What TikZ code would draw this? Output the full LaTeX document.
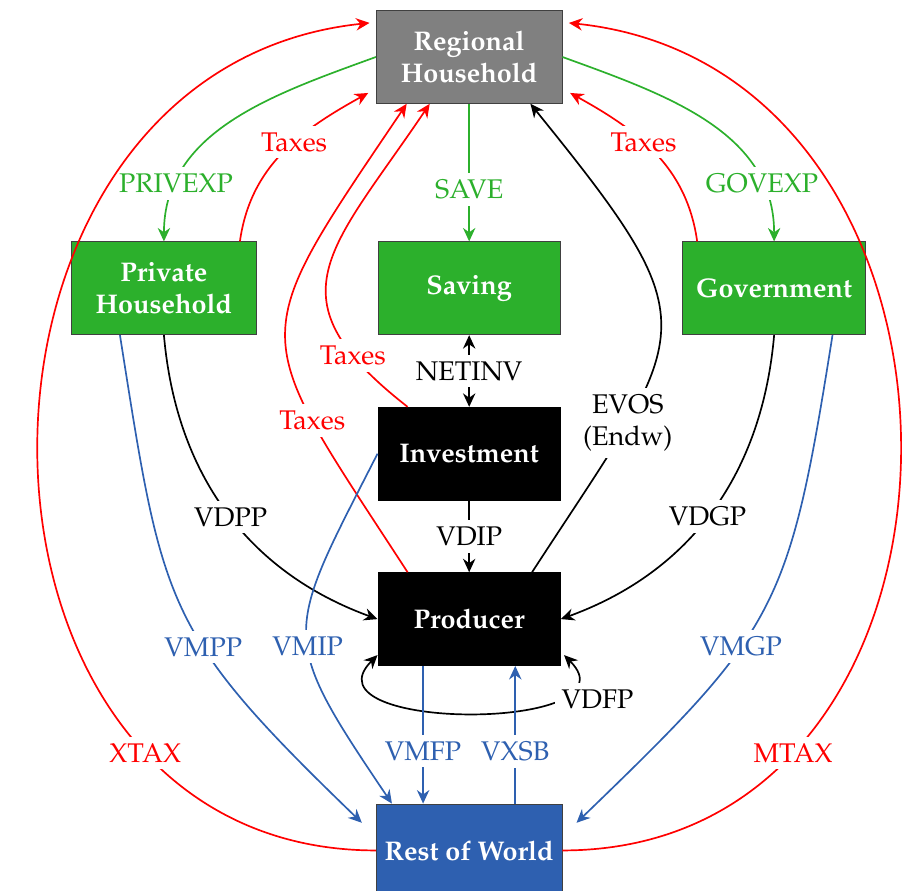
\documentclass[tikz,border=0pt]{standalone}
\usepackage[T1]{fontenc}
\usepackage{mathpazo}
\usepackage{tikz}
\usetikzlibrary{shapes,arrows,arrows.meta,positioning}

\definecolor{gtapgreen}{RGB}{44,176,44}
\definecolor{gtapblue}{RGB}{46,96,176}
\definecolor{gtapgray}{RGB}{128,128,128}

\begin{document}
\begin{tikzpicture}[
    font=\large,
    >={Stealth[length=6pt,width=5.5pt]},
    agent/.style={rectangle, draw=black!75, text=white, font=\large\bfseries, align=center, minimum width=2.85cm, minimum height=1.45cm, inner sep=2pt},
    flow/.style={line width=0.75pt, ->},
    lbl/.style={fill=white, inner sep=3pt}
]
\useasboundingbox (0,0) rectangle (14.17,-13.906);

% Agents
\node[agent, fill=gtapgray, minimum width=2.9cm] (rh) at (7.33,-0.89) {Regional\\Household};
\node[agent, fill=gtapgreen, below=2.15cm of rh] (saving) {Saving};
\node[agent, fill=gtapgreen, minimum width=2.9cm, left=1.88cm of saving] (ph) {Private\\Household};
\node[agent, fill=gtapgreen, right=1.9cm of saving] (gov) {Government};
\node[agent, fill=black, draw=black, below=1.12cm of saving] (inv) {Investment};
\node[agent, fill=black, draw=black, below=1.12cm of inv] (prod) {Producer};
\node[agent, fill=gtapblue, minimum width=2.9cm, below=2.15cm of prod] (row) {Rest of World};

% Income of the regional household
\draw[flow, gtapgreen] (rh.west) to[out=200, in=90] node[lbl, pos=0.8] {PRIVEXP} (ph.north);
\draw[flow, gtapgreen] (rh.south) -- node[lbl, pos=0.62] {SAVE} (saving.north);
\draw[flow, gtapgreen] (rh.east) to[out=-20, in=90] node[lbl, pos=0.8] {GOVEXP} (gov.north);

% Taxes
\draw[flow, red] ([xshift=-0.27cm]ph.north east) to[out=82, in=209] node[lbl, pos=0.58] {Taxes} ([shift={(-0.12,0.17)}]rh.south west);
\draw[flow, red] ([xshift=0.23cm]gov.north west) to[out=98, in=-29] node[lbl, pos=0.58] {Taxes} ([shift={(0.12,0.17)}]rh.south east);
\draw[flow, red] ([xshift=0.47cm]inv.north west) to[out=142, in=236, looseness=1.5] node[lbl, pos=0.17] {Taxes} ([xshift=0.84cm]rh.south west);
\draw[flow, red] ([xshift=0.47cm]prod.north west) to[out=123, in=236, looseness=1.6] node[lbl, pos=0.27] {Taxes} ([xshift=0.48cm]rh.south west);
\draw[flow, red] (row.west) to[out=180, in=186, looseness=1.38] node[lbl, pos=0.22] {XTAX} ([shift={(-0.1,-0.2)}]rh.north west);
\draw[flow, red] (row.east) to[out=0, in=-6, looseness=1.38] node[lbl, pos=0.22] {MTAX} ([shift={(0.1,-0.2)}]rh.north east);

% Domestic flows
\draw[flow, <->] (saving.south) -- node[lbl] {NETINV} (inv.north);
\draw[flow] (inv.south) -- node[lbl] {VDIP} (prod.north);
\draw[flow] ([xshift=-0.45cm]prod.north east) to[out=57, in=-51, looseness=1.6] node[lbl, pos=0.26, align=center] {EVOS\\(Endw)} ([xshift=-0.5cm]rh.south east);
\draw[flow] (ph.south) to[out=-85, in=160] node[lbl, pos=0.52] {VDPP} (prod.west);
\draw[flow] (gov.south) to[out=-95, in=20] node[lbl, pos=0.52] {VDGP} (prod.east);
\draw[flow, <->] ([yshift=0.17cm]prod.south west) to[out=225, in=315, looseness=1.5] node[lbl, pos=0.74, anchor=west] {VDFP} ([shift={(0.05,0.17)}]prod.south east);

% Imports and exports
\draw[flow, gtapblue] ([xshift=0.77cm]ph.south west) to[out=-81, in=136, looseness=1.3] node[lbl, pos=0.6] {VMPP} ([shift={(-0.22,-0.3)}]row.north west);
\draw[flow, gtapblue] ([xshift=-0.52cm]gov.south east) to[out=-99, in=44, looseness=1.3] node[lbl, pos=0.6] {VMGP} ([shift={(0.22,-0.3)}]row.north east);
\draw[flow, gtapblue] (inv.west) to[out=243, in=124, looseness=1.5] node[lbl, pos=0.55] {VMIP} ([xshift=0.25cm]row.north west);
\draw[flow, gtapblue] ([xshift=-0.72cm]prod.south) -- node[lbl, pos=0.62] {VMFP} ([xshift=-0.72cm]row.north);
\draw[flow, gtapblue] ([xshift=0.72cm]row.north) -- node[lbl, pos=0.38] {VXSB} ([xshift=0.72cm]prod.south);

\end{tikzpicture}
\end{document}
